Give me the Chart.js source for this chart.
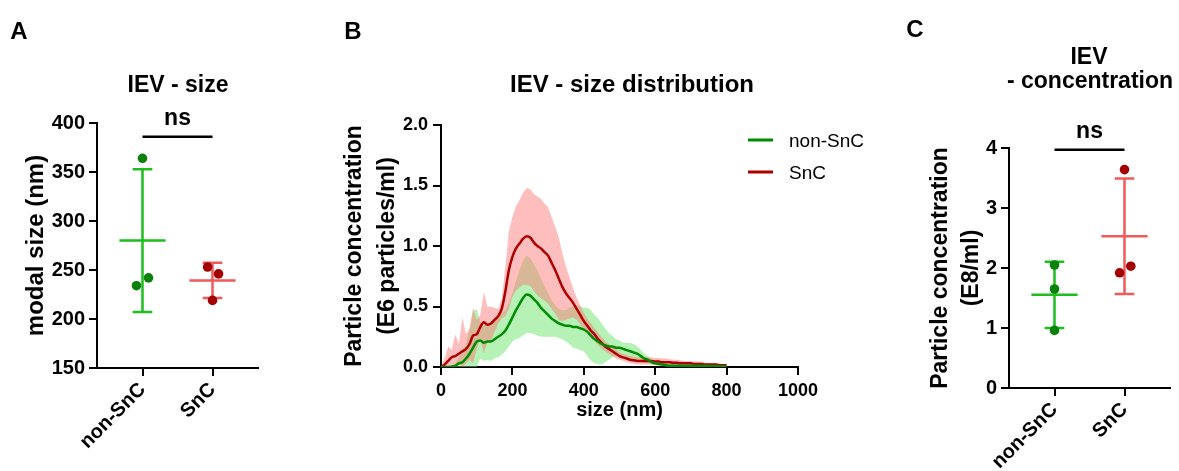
<!DOCTYPE html>
<html>
<head>
<meta charset="utf-8">
<script src="https://cdn.jsdelivr.net/npm/chart.js@4.4.1/dist/chart.umd.min.js"></script>
<style>
body { margin: 0; background: #fff; font-family: "Liberation Sans", Arial, sans-serif; }
#wrap { position: relative; width: 1179px; height: 471px; overflow: hidden; }
.panel { position: absolute; top: 0; height: 471px; }
.txt { position: absolute; transform: translate(-50%, -50%); line-height: 1; font-weight: bold; white-space: nowrap; color: #000; }
.letter { font-size: 24px; }
.title { font-size: 23px; }
.leg { position: absolute; left: 748px; font-size: 19px; line-height: 1; transform: translateY(-50%); white-space: nowrap; }
.leg span { display: inline-block; width: 25px; height: 3px; margin-right: 16px; vertical-align: middle; position: relative; top: -1px; }
</style>
</head>
<body>
<div id="wrap">
  <canvas id="chartA" class="panel" style="left:0px" width="270" height="471"></canvas>
  <canvas id="chartB" class="panel" style="left:330px" width="560" height="471"></canvas>
  <canvas id="chartC" class="panel" style="left:900px" width="279" height="471"></canvas>

  <div class="txt letter" style="left:19px;top:31px">A</div>
  <div class="txt letter" style="left:353px;top:31px">B</div>
  <div class="txt letter" style="left:915px;top:29px">C</div>

  <div class="txt title" style="left:178px;top:84px">IEV - size</div>
  <div class="txt title" style="left:632px;top:84px;font-size:24px">IEV - size distribution</div>
  <div class="txt title" style="left:1089px;top:56px">IEV</div>
  <div class="txt title" style="left:1090px;top:80px">- concentration</div>

  <div class="leg" style="top:140px"><span style="background:rgb(0,140,0)"></span>non-SnC</div>
  <div class="leg" style="top:172px"><span style="background:rgb(175,0,0)"></span>SnC</div>
</div>

<script>
// groups for the scatter panels
var groups = ['non-SnC', 'SnC'];

// A: modal size (nm)
var sizeNonSnC = [364, 242, 234];
var sizeSnC = [253, 246, 219];
var sigSize = 386;

// C: particle concentration (E8/ml)
var concNonSnC = [2.05, 1.65, 0.96];
var concSnC = [3.64, 1.92, 2.03];
var sigConc = 3.97;

// B: size distribution, size in nm
var sizes = [0, 10, 20, 30, 40, 50, 60, 70, 80, 90,
  100, 110, 120, 130, 140, 150, 160, 170, 180, 190,
  200, 210, 220, 230, 240, 250, 260, 270, 280, 290,
  300, 310, 320, 330, 340, 350, 360, 370, 380, 390,
  400, 410, 420, 430, 440, 450, 460, 470, 480, 490,
  500, 510, 520, 530, 540, 550, 560, 570, 580, 590,
  600, 610, 620, 630, 640, 650, 660, 670, 680, 690,
  700, 710, 720, 730, 740, 750, 760, 770, 780, 790, 800];

var nonSnCMean = [0, 0, 0, 0.005, 0.01, 0.03, 0.04, 0.07, 0.11, 0.16,
  0.21, 0.22, 0.20, 0.21, 0.21, 0.23, 0.25, 0.27, 0.30, 0.35,
  0.41, 0.47, 0.52, 0.57, 0.60, 0.59, 0.56, 0.53, 0.49, 0.46,
  0.43, 0.40, 0.38, 0.36, 0.35, 0.34, 0.34, 0.33, 0.33, 0.32,
  0.31, 0.29, 0.26, 0.23, 0.21, 0.19, 0.18, 0.17, 0.17, 0.16,
  0.16, 0.15, 0.14, 0.13, 0.12, 0.11, 0.09, 0.07, 0.06, 0.04,
  0.03, 0.025, 0.02, 0.015, 0.01, 0.01, 0.01, 0.01, 0.01, 0.01,
  0.01, 0.01, 0.01, 0.01, 0.01, 0.008, 0.008, 0.008, 0.006, 0.006, 0.005];

var nonSnCSd = [0, 0, 0, 0.01, 0.02, 0.05, 0.08, 0.12, 0.20, 0.30,
  0.27, 0.15, 0.15, 0.15, 0.16, 0.16, 0.17, 0.17, 0.17, 0.18,
  0.20, 0.24, 0.28, 0.31, 0.32, 0.31, 0.29, 0.27, 0.24, 0.21,
  0.18, 0.15, 0.13, 0.12, 0.12, 0.13, 0.15, 0.17, 0.18, 0.18,
  0.18, 0.20, 0.21, 0.20, 0.19, 0.17, 0.14, 0.11, 0.09, 0.07,
  0.06, 0.05, 0.06, 0.07, 0.07, 0.06, 0.05, 0.04, 0.03, 0.02,
  0.01, 0.01, 0.01, 0.01, 0.01, 0.01, 0.01, 0.01, 0.01, 0.01,
  0.01, 0.01, 0.01, 0.01, 0.01, 0.01, 0.01, 0.01, 0.01, 0.01, 0.01];

var snCMean = [0, 0.02, 0.05, 0.08, 0.09, 0.11, 0.13, 0.15, 0.19, 0.26,
  0.27, 0.33, 0.37, 0.35, 0.36, 0.39, 0.42, 0.48, 0.62, 0.80,
  0.91, 0.98, 1.02, 1.06, 1.08, 1.07, 1.03, 1.00, 0.98, 0.95,
  0.92, 0.86, 0.80, 0.73, 0.66, 0.61, 0.57, 0.53, 0.48, 0.43,
  0.38, 0.34, 0.30, 0.27, 0.23, 0.20, 0.17, 0.15, 0.13, 0.11,
  0.09, 0.08, 0.07, 0.06, 0.055, 0.05, 0.05, 0.05, 0.05, 0.05,
  0.045, 0.045, 0.04, 0.04, 0.04, 0.035, 0.035, 0.03, 0.03, 0.03,
  0.03, 0.025, 0.025, 0.025, 0.02, 0.02, 0.02, 0.02, 0.015, 0.015, 0.015];

var snCSd = [0, 0.05, 0.12, 0.06, 0.18, 0.08, 0.28, 0.12, 0.13, 0.23,
  0.12, 0.10, 0.25, 0.15, 0.14, 0.10, 0.06, 0.08, 0.20, 0.32,
  0.33, 0.35, 0.36, 0.38, 0.40, 0.40, 0.40, 0.41, 0.41, 0.40,
  0.40, 0.38, 0.36, 0.34, 0.28, 0.22, 0.17, 0.12, 0.09, 0.08,
  0.07, 0.06, 0.06, 0.05, 0.05, 0.05, 0.04, 0.04, 0.04, 0.04,
  0.03, 0.03, 0.03, 0.03, 0.03, 0.03, 0.03, 0.03, 0.03, 0.03,
  0.03, 0.03, 0.03, 0.03, 0.025, 0.025, 0.025, 0.025, 0.02, 0.02,
  0.02, 0.02, 0.02, 0.02, 0.015, 0.015, 0.015, 0.015, 0.015, 0.01, 0.01];

Chart.defaults.font.family = '"Liberation Sans", Arial, sans-serif';
Chart.defaults.color = '#000';
Chart.defaults.animation = false;

var tickFont = { size: 18, weight: 'bold' };
var dotTickFont = { size: 20, weight: 'bold' };

function mean(a) {
    return a.reduce(function(s, v) { return s + v; }, 0) / a.length;
}
function sd(a) {
    var m = mean(a);
    return Math.sqrt(a.reduce(function(s, v) { return s + (v - m) * (v - m); }, 0) / (a.length - 1));
}

// dots + mean line + SD whiskers for one group
function groupSets(vals, jitter, pos, dotColor, barColor) {
    var m = mean(vals), s = sd(vals);
    var hw = 0.33, cap = 0.14;
    return [
        {
            type: 'scatter',
            data: vals.map(function(v, i) { return { x: pos + jitter[i], y: v }; }),
            pointRadius: 4.8,
            pointBackgroundColor: dotColor,
            pointBorderWidth: 0
        },
        {
            type: 'line',
            data: [
                { x: pos - hw, y: m }, { x: pos + hw, y: m }, { x: pos, y: null },
                { x: pos, y: m + s }, { x: pos, y: m - s }, { x: pos, y: null },
                { x: pos - cap, y: m + s }, { x: pos + cap, y: m + s }, { x: pos, y: null },
                { x: pos - cap, y: m - s }, { x: pos + cap, y: m - s }
            ],
            borderColor: barColor,
            borderWidth: 2.5,
            pointRadius: 0,
            spanGaps: false,
            fill: false
        }
    ];
}

var nsLabel = {
    id: 'nsLabel',
    afterDatasetsDraw: function(chart, args, opts) {
        var ctx = chart.ctx;
        ctx.save();
        ctx.font = 'bold 23px "Liberation Sans", Arial, sans-serif';
        ctx.textAlign = 'center';
        ctx.textBaseline = 'alphabetic';
        ctx.fillStyle = '#000';
        ctx.fillText('ns', chart.scales.x.getPixelForValue(1.5), chart.scales.y.getPixelForValue(opts.y) - 12);
        ctx.restore();
    }
};

function sigBar(y) {
    return {
        type: 'line',
        data: [{ x: 1, y: y }, { x: 2, y: y }],
        borderColor: '#000',
        borderWidth: 2.5,
        pointRadius: 0,
        clip: false
    };
}

function axisGrid() {
    return { drawOnChartArea: false, color: '#000', lineWidth: 2, tickLength: 8, tickWidth: 2 };
}

function dotPlot(id, sets, yOpts, sigY, yTitle, yWidth, xHeight, top, right) {
    return new Chart(document.getElementById(id), {
        type: 'scatter',
        data: { datasets: sets },
        plugins: [nsLabel],
        options: {
            responsive: false,
            layout: { padding: { top: top, right: right, left: 0, bottom: 0 } },
            plugins: { legend: { display: false }, tooltip: { enabled: false }, nsLabel: { y: sigY } },
            scales: {
                x: {
                    type: 'linear',
                    min: 0.35,
                    max: 2.65,
                    afterBuildTicks: function(s) { s.ticks = groups.map(function(g, i) { return { value: i + 1 }; }); },
                    afterFit: function(s) { s.height = xHeight; },
                    ticks: {
                        callback: function(v) { return groups[v - 1]; },
                        minRotation: 45, maxRotation: 45, autoSkip: false,
                        font: dotTickFont, color: '#000', padding: 2
                    },
                    grid: axisGrid(),
                    border: { color: '#000', width: 2 }
                },
                y: {
                    min: yOpts.min,
                    max: yOpts.max,
                    afterFit: function(s) { s.width = yWidth; },
                    ticks: { stepSize: yOpts.step, font: dotTickFont, color: '#000', padding: 4 },
                    grid: axisGrid(),
                    border: { color: '#000', width: 2 },
                    title: yTitle
                }
            }
        }
    });
}

// A
dotPlot('chartA',
    [sigBar(sigSize)]
        .concat(groupSets(sizeNonSnC, [0, 0.086, -0.086], 1, 'rgb(10,130,10)', 'rgb(30,190,30)'))
        .concat(groupSets(sizeSnC, [-0.07, 0.086, 0], 2, 'rgb(165,0,0)', 'rgb(240,90,90)')),
    { min: 150, max: 400, step: 50 },
    sigSize,
    { display: true, text: 'modal size (nm)', font: { size: 24, weight: 'bold', lineHeight: 1.2 }, padding: { top: 22 } },
    97, 103, 123, 12);

// C
dotPlot('chartC',
    [sigBar(sigConc)]
        .concat(groupSets(concNonSnC, [0, 0, 0], 1, 'rgb(10,130,10)', 'rgb(30,190,30)'))
        .concat(groupSets(concSnC, [0, -0.07, 0.09], 2, 'rgb(165,0,0)', 'rgb(240,90,90)')),
    { min: 0, max: 4, step: 1 },
    sigConc,
    { display: true, text: ['Particle concentration', '(E8/ml)'], font: { size: 23, weight: 'bold', lineHeight: 1.35 }, padding: { top: 25 } },
    109, 83, 148, 9);

// B
function pts(arr) {
    return sizes.map(function(s, i) { return { x: s, y: arr[i] }; });
}
function band(m, d, sign) {
    return sizes.map(function(s, i) { return { x: s, y: Math.max(0, m[i] + sign * d[i]) }; });
}

new Chart(document.getElementById('chartB'), {
    type: 'line',
    data: {
        datasets: [
            { label: 'non-SnC', data: pts(nonSnCMean), borderColor: 'rgb(0,140,0)', borderWidth: 2.5, pointRadius: 0, fill: false, cubicInterpolationMode: 'monotone' },
            { label: 'SnC', data: pts(snCMean), borderColor: 'rgb(175,0,0)', borderWidth: 2.5, pointRadius: 0, fill: false, cubicInterpolationMode: 'monotone' },
            { label: 'SnC +SD', data: band(snCMean, snCSd, 1), borderColor: 'transparent', pointRadius: 0, fill: '+1', backgroundColor: 'rgba(255,110,110,0.45)' },
            { label: 'SnC -SD', data: band(snCMean, snCSd, -1), borderColor: 'transparent', pointRadius: 0, fill: false },
            { label: 'non-SnC +SD', data: band(nonSnCMean, nonSnCSd, 1), borderColor: 'transparent', pointRadius: 0, fill: '+1', backgroundColor: 'rgba(110,230,110,0.5)' },
            { label: 'non-SnC -SD', data: band(nonSnCMean, nonSnCSd, -1), borderColor: 'transparent', pointRadius: 0, fill: false }
        ]
    },
    options: {
        responsive: false,
        layout: { padding: { top: 125, right: 92, left: 0, bottom: 0 } },
        plugins: { legend: { display: false }, tooltip: { enabled: false } },
        scales: {
            x: {
                type: 'linear',
                min: 0,
                max: 1000,
                afterFit: function(s) { s.height = 104; },
                ticks: { stepSize: 200, font: tickFont, color: '#000', padding: 5, maxRotation: 0, callback: function(v) { return String(v); } },
                grid: axisGrid(),
                border: { color: '#000', width: 2 },
                title: { display: true, text: 'size (nm)', font: { size: 20, weight: 'bold', lineHeight: 1.2 }, padding: { bottom: 49 } }
            },
            y: {
                min: 0,
                max: 2,
                afterFit: function(s) { s.width = 111; },
                ticks: { stepSize: 0.5, font: tickFont, color: '#000', padding: 5, callback: function(v) { return v.toFixed(1); } },
                grid: axisGrid(),
                border: { color: '#000', width: 2 },
                title: { display: true, text: ['Particle concentration', '(E6 particles/ml)'], font: { size: 23, weight: 'bold', lineHeight: 1.43 }, padding: { top: 8 } }
            }
        }
    }
});
</script>
</body>
</html>
